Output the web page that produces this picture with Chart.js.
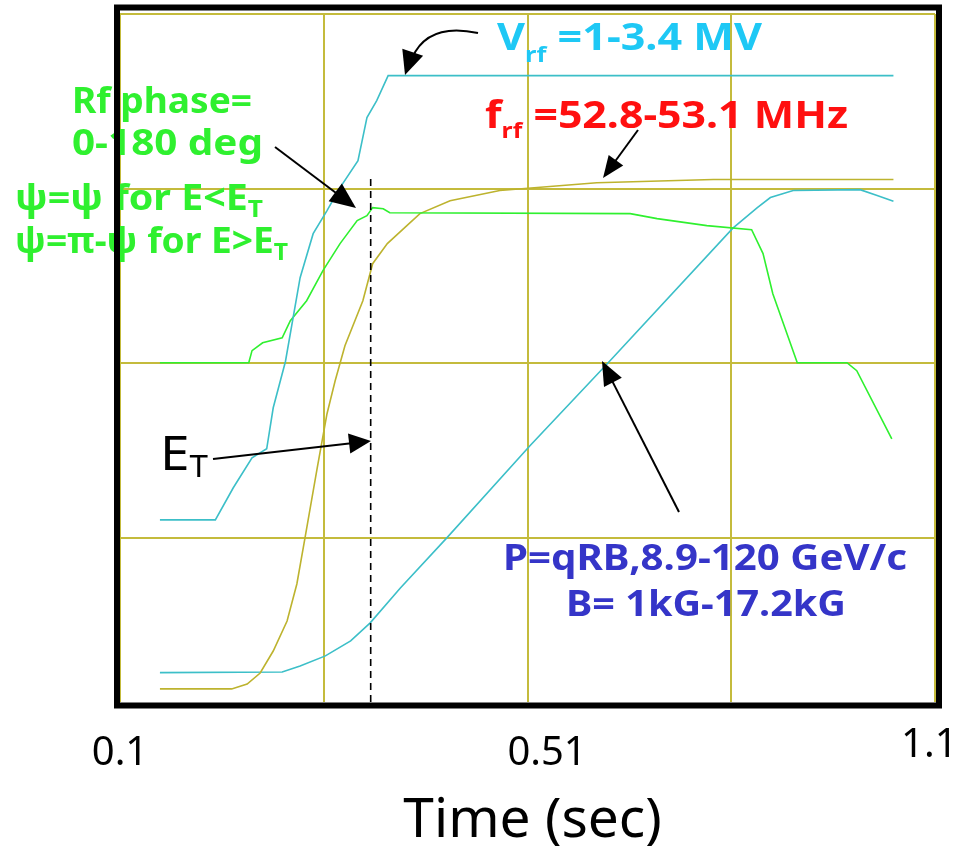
<!DOCTYPE html>
<html>
<head>
<meta charset="utf-8">
<title>Main Injector ramp</title>
<script src="https://cdn.jsdelivr.net/npm/chart.js@4.4.1/dist/chart.umd.min.js"></script>
<style>
	html, body { margin: 0; padding: 0; background: #fff; }
	#c { display: block; }
</style>
</head>
<body>
<canvas id="c" width="955" height="846"></canvas>
<script>
	'use strict';

	// time axis (sec) and grid levels (arbitrary divisions)
	const gridTimes	= [0.1, 0.35, 0.6, 0.85, 1.1];
	const gridLevels	= [1, 2, 3, 4];
	const tickValues	= [0.1, 0.624, 1.093];
	const tickLabels	= ['0.1', '0.51', '1.1'];
	const axisTitle	= 'Time (sec)';

	// Vrf
	const vrfTime	= [0.149, 0.217, 0.239, 0.262, 0.280, 0.288, 0.303, 0.321, 0.337, 0.354, 0.370, 0.392, 0.403, 0.415, 0.429, 1.049];
	const vrfLevel	= [1.103, 1.103, 1.287, 1.458, 1.510, 1.745, 2.010, 2.490, 2.742, 2.874, 3.006, 3.160, 3.407, 3.504, 3.647, 3.647];

	// B field / momentum
	const bTime		= [0.149, 0.299, 0.321, 0.352, 0.383, 0.407, 0.444, 0.501, 0.603, 0.699, 0.852, 0.882, 0.898, 0.926, 1.008, 1.029, 1.049];
	const bLevel	= [0.228, 0.232, 0.266, 0.324, 0.410, 0.513, 0.713, 1.000, 1.527, 2.003, 2.774, 2.891, 2.949, 2.989, 2.994, 2.960, 2.927];

	// frf
	const frfTime	= [0.149, 0.237, 0.256, 0.272, 0.288, 0.305, 0.317, 0.327, 0.342, 0.354, 0.364, 0.376, 0.398, 0.410, 0.428, 0.452, 0.468, 0.505, 0.566, 0.685, 0.828, 1.049];
	const frfLevel	= [0.135, 0.135, 0.163, 0.226, 0.352, 0.524, 0.736, 1.000, 1.401, 1.711, 1.900, 2.100, 2.358, 2.570, 2.685, 2.788, 2.857, 2.931, 2.989, 3.034, 3.052, 3.052];

	// rf phase
	const phaseTime		= [0.149, 0.258, 0.262, 0.275, 0.299, 0.309, 0.329, 0.349, 0.370, 0.391, 0.403, 0.410, 0.423, 0.431, 0.726, 0.759, 0.820, 0.875, 0.889, 0.901, 0.931, 0.992, 1.004, 1.047];
	const phaseLevel	= [2.003, 2.003, 2.072, 2.117, 2.146, 2.244, 2.358, 2.530, 2.685, 2.817, 2.845, 2.891, 2.885, 2.862, 2.857, 2.828, 2.788, 2.765, 2.628, 2.398, 2.003, 2.003, 1.957, 1.567];

	// transition energy marker
	const transTime		= [0.4076, 0.4076];
	const transLevel	= [0.06, 3.057];

	const TEAL	= '#3cbfc8',
		GREEN	= '#2ff02f',
		OLIVE	= '#bdb32e',
		GRID	= '#c4bb3c',
		FONT	= '"Noto Sans", "DejaVu Sans", sans-serif';

	function zip(xs, ys) {
		return xs.map(function (x, i) { return { x: x, y: ys[i] }; });
	}

	// draws a run of text pieces [text, size, dy], squeezed to a width
	function rich(ctx, parts, x, y, width, color, weight) {
		let w = 0;
		parts.forEach(function (p) {
			ctx.font = weight + ' ' + p[1] + 'px ' + FONT;
			w += ctx.measureText(p[0]).width;
		});
		let k = width ? width / w : 1;
		ctx.save();
		ctx.translate(x, y);
		ctx.scale(k, 1);
		ctx.fillStyle		= color;
		ctx.textAlign		= 'left';
		ctx.textBaseline	= 'alphabetic';
		let cx = 0;
		parts.forEach(function (p) {
			ctx.font = weight + ' ' + p[1] + 'px ' + FONT;
			ctx.fillText(p[0], cx, p[2]);
			cx += ctx.measureText(p[0]).width;
		});
		ctx.restore();
	}

	function head(ctx, x, y, ang, len, half) {
		ctx.beginPath();
		ctx.moveTo(x, y);
		ctx.lineTo(x - len * Math.cos(ang) + half * Math.sin(ang), y - len * Math.sin(ang) - half * Math.cos(ang));
		ctx.lineTo(x - len * Math.cos(ang) - half * Math.sin(ang), y - len * Math.sin(ang) + half * Math.cos(ang));
		ctx.closePath();
		ctx.fill();
	}

	function arrow(ctx, x1, y1, x2, y2, len, half) {
		let ang = Math.atan2(y2 - y1, x2 - x1);
		ctx.beginPath();
		ctx.moveTo(x1, y1);
		ctx.lineTo(x2 - len * 0.8 * Math.cos(ang), y2 - len * 0.8 * Math.sin(ang));
		ctx.stroke();
		head(ctx, x2, y2, ang, len, half);
	}

	const notes = {
		id: 'notes',
		afterDatasetsDraw: function (chart) {
			let ctx = chart.ctx;
			ctx.save();

			rich(ctx, [['V', 37, 0], ['rf', 22, 12], [' =1-3.4 MV', 37, 0]], 497, 50, 265, '#1ec8f5', 'bold');
			rich(ctx, [['f', 38, 0], ['rf', 22, 10], [' =52.8-53.1 MHz', 38, 0]], 485, 128, 363, '#ff1010', 'bold');

			rich(ctx, [['Rf phase=', 36, 0]], 72, 113, 180, GREEN, 'bold');
			rich(ctx, [['0-180 deg', 36, 0]], 72, 155, 191, GREEN, 'bold');
			rich(ctx, [['ψ=ψ for E<E', 36, 0], ['T', 24, 7]], 15, 210, 248, GREEN, 'bold');
			rich(ctx, [['ψ=π-ψ for E>E', 36, 0], ['T', 24, 7]], 15, 253, 273, GREEN, 'bold');

			rich(ctx, [['P=qRB,8.9-120 GeV/c', 35, 0]], 503, 570, 404, '#3535c8', 'bold');
			rich(ctx, [['B= 1kG-17.2kG', 35, 0]], 566, 616, 280, '#3535c8', 'bold');

			rich(ctx, [['E', 48, 0], ['T', 30, 7]], 160, 470, 48, '#000', 'normal');

			ctx.strokeStyle	= '#000';
			ctx.fillStyle	= '#000';
			ctx.lineWidth	= 2;

			// curved arrow onto the Vrf flat top
			ctx.beginPath();
			ctx.moveTo(478, 33);
			ctx.quadraticCurveTo(428, 22, 412, 58);
			ctx.stroke();
			head(ctx, 405, 75, Math.atan2(53, -18), 24, 11);

			arrow(ctx, 638, 130, 603, 178, 22, 9);
			arrow(ctx, 275, 147, 356, 208, 26, 11);
			arrow(ctx, 213, 459, 371, 441, 22, 10);
			arrow(ctx, 679, 512, 602, 361, 24, 10);

			ctx.restore();
		}
	};

	// black frame, time tick labels and axis title
	const frame = {
		id: 'frame',
		afterDraw: function (chart) {
			let ctx	= chart.ctx;
			let x	= chart.scales.x;
			ctx.save();
			ctx.strokeStyle	= '#000';
			ctx.lineWidth	= 6;
			ctx.strokeRect(117, 7.5, 822, 698);

			ctx.fillStyle	= '#000';
			ctx.textAlign	= 'center';
			ctx.textBaseline	= 'alphabetic';
			ctx.font		= '40px ' + FONT;
			tickValues.forEach(function (v, i) {
				let last = i === tickValues.length - 1;
				ctx.fillText(tickLabels[i], x.getPixelForValue(v), last ? 757 : 765);
			});

			ctx.font = '55px ' + FONT;
			ctx.fillText(axisTitle, (x.left + x.right) / 2 + 5, 837);
			ctx.restore();
		}
	};

	function line(data, color, extra) {
		return Object.assign({
			data: data,
			xAxisID: 'x',
			yAxisID: 'y',
			borderColor: color,
			borderWidth: 1.6,
			pointRadius: 0,
			tension: 0,
			fill: false
		}, extra || {});
	}

	new Chart(document.getElementById('c'), {
		type: 'line',
		data: {
			datasets: [
				line(zip(transTime, transLevel), '#000', { borderDash: [7, 5], borderWidth: 1.6 }),
				line(zip(vrfTime, vrfLevel), TEAL),
				line(zip(phaseTime, phaseLevel), GREEN),
				line(zip(frfTime, frfLevel), OLIVE),
				line(zip(bTime, bLevel), TEAL)
			]
		},
		options: {
			responsive: false,
			animation: false,
			layout: { padding: { left: 120, right: 20, top: 14, bottom: 144 } },
			plugins: {
				legend: { display: false },
				tooltip: { enabled: false }
			},
			scales: {
				x: {
					type: 'linear',
					min: 0.1,
					max: 1.1,
					afterBuildTicks: function (s) { s.ticks = gridTimes.map(function (v) { return { value: v }; }); },
					ticks: { display: false },
					grid: { color: GRID, lineWidth: 2, drawTicks: false },
					border: { display: false }
				},
				y: {
					type: 'linear',
					min: 0.06,
					max: 4,
					afterBuildTicks: function (s) { s.ticks = gridLevels.map(function (v) { return { value: v }; }); },
					ticks: { display: false },
					grid: { color: GRID, lineWidth: 2, drawTicks: false },
					border: { display: false }
				}
			}
		},
		plugins: [notes, frame]
	});
</script>
</body>
</html>
